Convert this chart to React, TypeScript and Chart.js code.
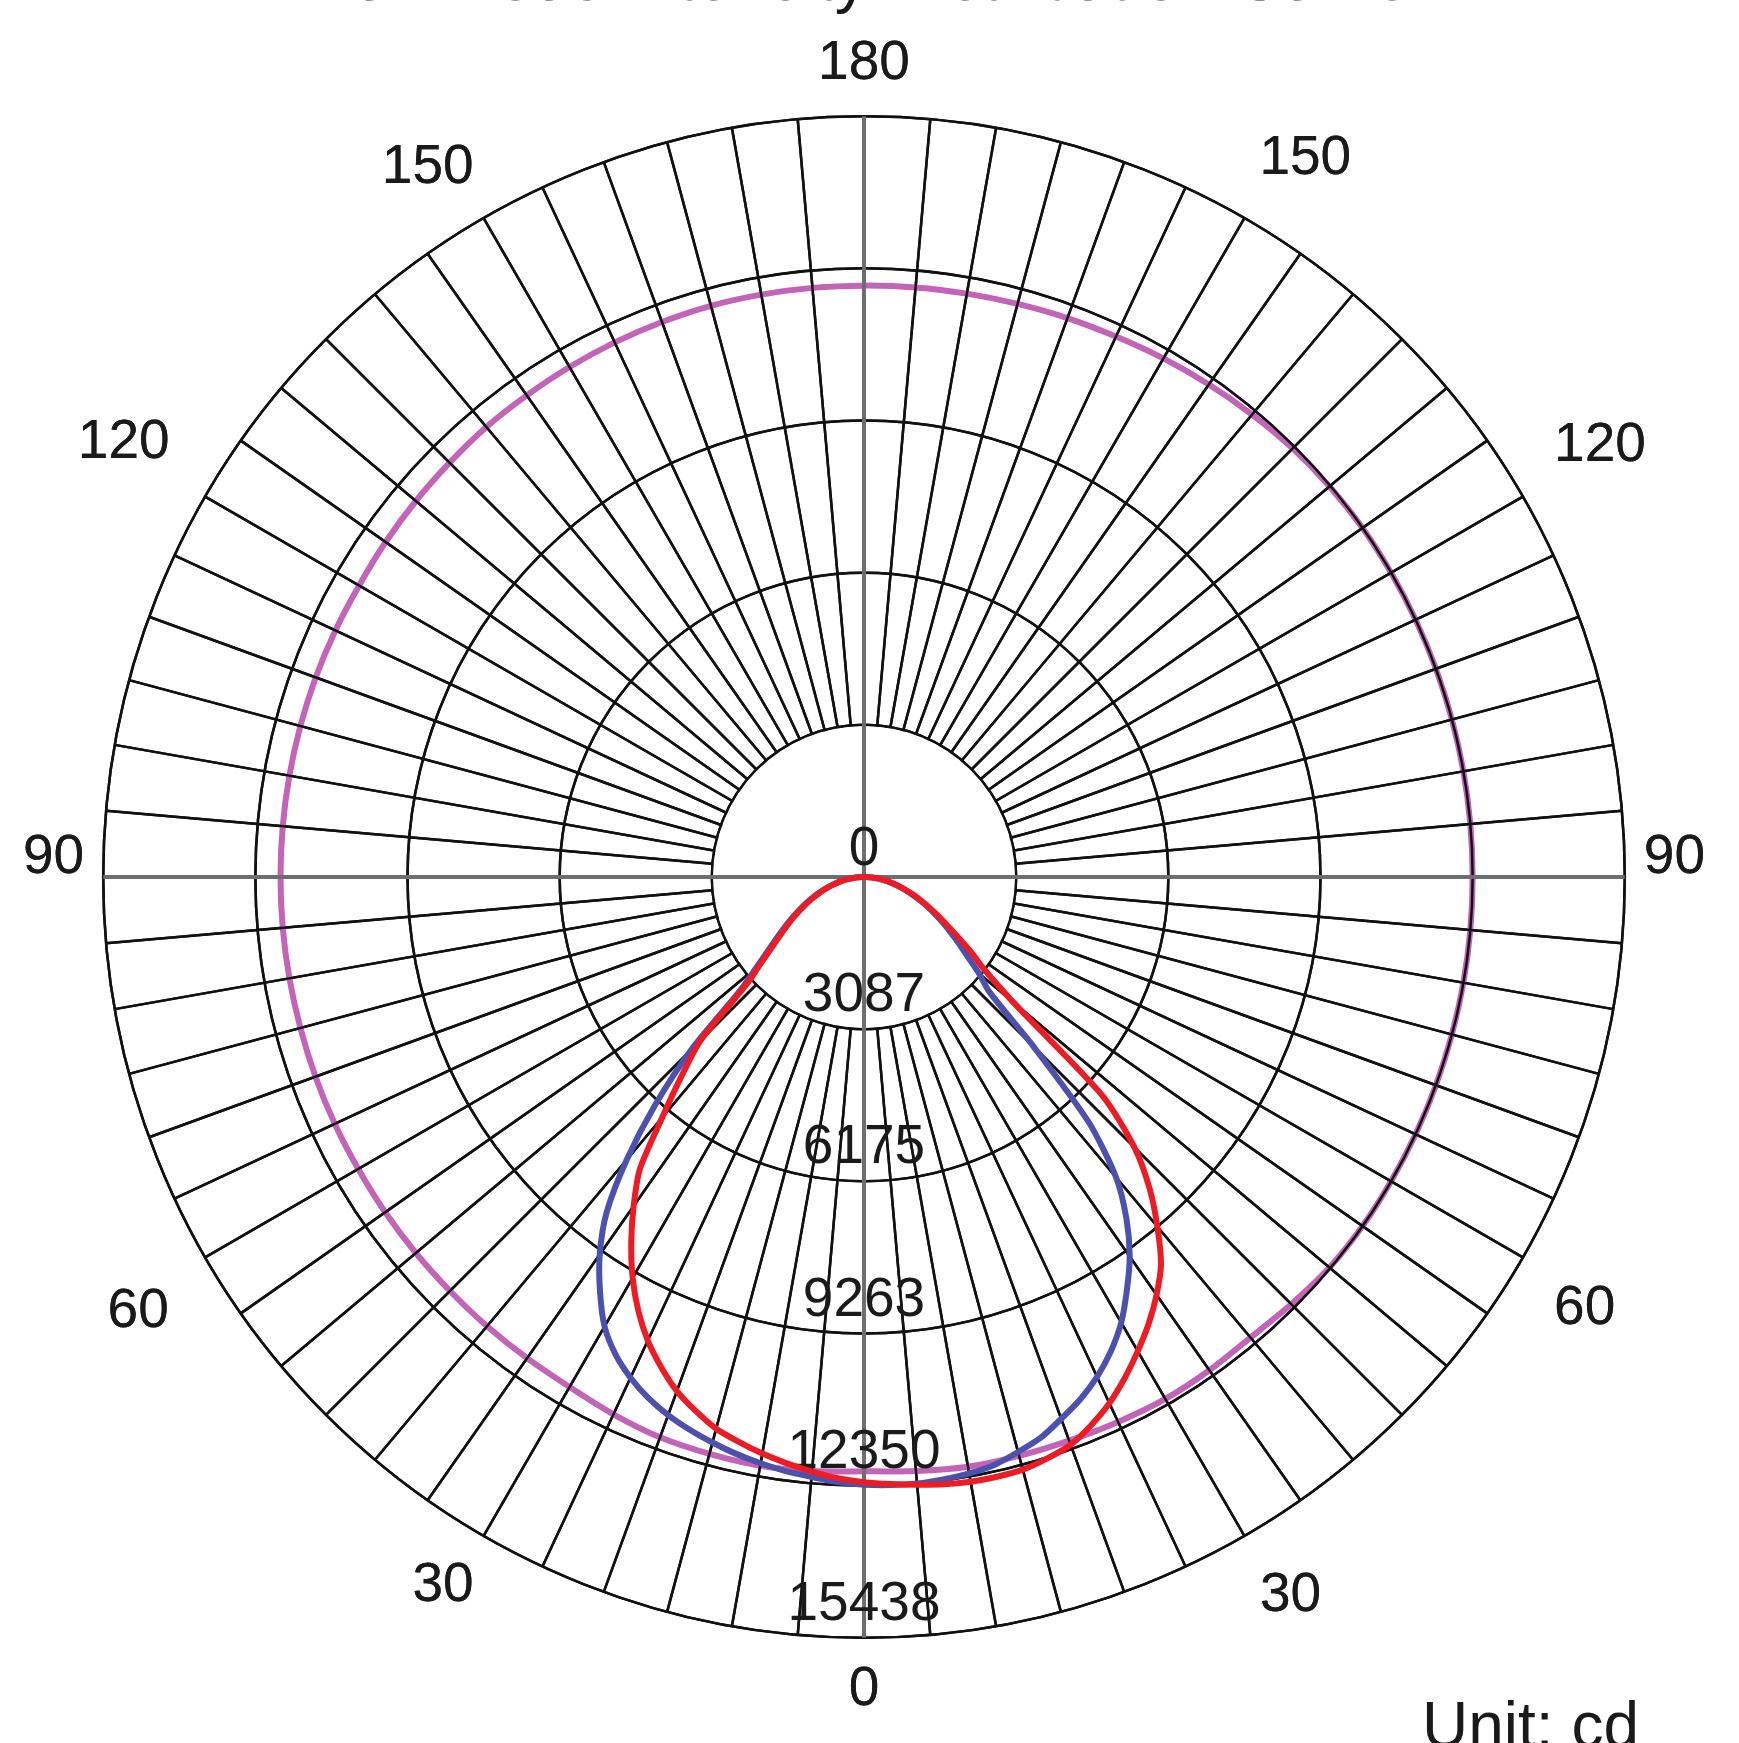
import { useEffect, useRef } from 'react';
import { Chart, registerables } from 'chart.js';

Chart.register(...registerables);

// Gamma angles (deg) for one half-plane, nadir (0) to zenith (180), 2.5° steps
const GAMMA = [0, 2.5, 5, 7.5, 10, 12.5, 15, 17.5, 20, 22.5, 25, 27.5, 30, 32.5, 35, 37.5, 40, 42.5, 45, 47.5,
  50, 52.5, 55, 57.5, 60, 62.5, 65, 67.5, 70, 72.5, 75, 77.5, 80, 82.5, 85, 87.5, 90, 92.5, 95, 97.5,
  100, 102.5, 105, 107.5, 110, 112.5, 115, 117.5, 120, 122.5, 125, 127.5, 130, 132.5, 135, 137.5, 140,
  142.5, 145, 147.5, 150, 152.5, 155, 157.5, 160, 162.5, 165, 167.5, 170, 172.5, 175, 177.5, 180];

const ANGLE_TICKS = [0, 30, 60, 90, 120, 150, 180];
const TICK_VALUES = [0, 3087.6, 6175.2, 9262.8, 12350.4, 15438];
const TICK_LABELS = ['0', '3087', '6175', '9263', '12350', '15438'];

// Red curve (cd), gamma 0..180 every 2.5°
const RED_LEFT = [12280, 12210, 12110, 12000, 11880, 11740, 11590, 11360, 11100, 10760, 10380, 9920, 9390, 8790, 8150, 7470, 6370, 5480, 4690, 3250,
  2740, 2370, 2090, 1860, 1660, 1470, 1300, 1130, 980, 840, 700, 570, 450, 330, 220, 110, 0,
  0, 0, 0, 0, 0, 0, 0, 0, 0, 0, 0, 0, 0, 0, 0, 0, 0, 0, 0, 0, 0, 0, 0, 0, 0, 0, 0, 0, 0, 0, 0, 0, 0, 0, 0, 0, 0];
const RED_RIGHT = [12280, 12330, 12380, 12430, 12460, 12465, 12450, 12370, 12260, 12040, 11780, 11460, 11110, 10750, 10350, 9900, 9260, 8580, 7760, 6550,
  3950, 3060, 2650, 2250, 1930, 1680, 1460, 1260, 1070, 900, 745, 600, 470, 350, 230, 115, 0,
  0, 0, 0, 0, 0, 0, 0, 0, 0, 0, 0, 0, 0, 0, 0, 0, 0, 0, 0, 0, 0, 0, 0, 0, 0, 0, 0, 0, 0, 0, 0, 0, 0, 0, 0, 0, 0];

// Blue curve (cd), gamma 0..180 every 2.5°
const BLUE_LEFT = [12330, 12290, 12220, 12160, 12080, 11990, 11880, 11760, 11620, 11440, 11210, 10920, 10530, 9970, 9350, 8580, 7490, 6270, 4950, 3400,
  2840, 2450, 2160, 1920, 1710, 1510, 1330, 1160, 1005, 862, 718, 584, 460, 340, 225, 112, 0,
  0, 0, 0, 0, 0, 0, 0, 0, 0, 0, 0, 0, 0, 0, 0, 0, 0, 0, 0, 0, 0, 0, 0, 0, 0, 0, 0, 0, 0, 0, 0, 0, 0, 0, 0, 0, 0];
const BLUE_RIGHT = [12330, 12350, 12355, 12330, 12290, 12220, 12080, 11930, 11700, 11470, 11190, 10850, 10440, 9930, 9400, 8750, 7960, 6750, 4860, 3450,
  3050, 2650, 2350, 2080, 1840, 1620, 1410, 1220, 1040, 880, 735, 595, 462, 340, 228, 114, 0,
  0, 0, 0, 0, 0, 0, 0, 0, 0, 0, 0, 0, 0, 0, 0, 0, 0, 0, 0, 0, 0, 0, 0, 0, 0, 0, 0, 0, 0, 0, 0, 0, 0, 0, 0, 0, 0];

// Purple curve (cd), gamma 0..180 every 5°
const PURPLE_LEFT = [12060, 12100, 12130, 12120, 12100, 12030, 11950, 11920, 11900, 11880, 11870, 11860, 11850, 11850, 11845, 11840, 11840, 11840, 11840,
  11840, 11840, 11840, 11840, 11835, 11830, 11850, 11870, 11890, 11920, 11930, 11950, 11970, 11985, 12000, 12000, 12000, 12000];
const PURPLE_RIGHT = [12060, 12100, 12150, 12160, 12170, 12200, 12230, 12220, 12200, 12260, 12330, 12350, 12350, 12350, 12350, 12350, 12350, 12350, 12350,
  12350, 12350, 12350, 12350, 12350, 12350, 12350, 12330, 12300, 12250, 12200, 12150, 12100, 12070, 12040, 12020, 12010, 12000];

const FONT = '"Liberation Sans", Arial, Helvetica, sans-serif';
const GRID = '#111111';
const AXIS = '#6e6e6e';
const TEXT = '#1a1a1a';
const N = 144; // radar spokes at 2.5°
const HALF = 72;
const PURPLE_INDEX = 2;

// Radar index i: 0 = nadir, clockwise up the left side to zenith (72), then down the right side
const gammaIndex = (i: number) => (i <= HALF ? i : N - i);
const ringLabels = (): (string | string[])[] => {
  const out: (string | string[])[] = [];
  for (let i = 0; i < N; i++) {
    const g = GAMMA[gammaIndex(i)];
    if (!ANGLE_TICKS.includes(g)) out.push('');
    else if (g === 90) out.push(['90', '']);
    else out.push(String(g));
  }
  return out;
};
const ringData = (left: number[], right: number[], step: number): (number | null)[] => {
  const out: (number | null)[] = [];
  for (let i = 0; i < N; i++) {
    const gi = gammaIndex(i);
    if (gi % step !== 0) {
      out.push(null);
      continue;
    }
    out.push(i <= HALF ? left[gi / step] : right[gi / step]);
  }
  return out;
};

const drawHub = (chart: any) => {
  const scale = chart.scales.r;
  const ctx = chart.ctx;
  const xC = scale.xCenter;
  const yC = scale.yCenter;
  const r1 = scale.getDistanceFromCenterForValue(TICK_VALUES[1]);
  ctx.save();
  ctx.beginPath();
  ctx.arc(xC, yC, r1 - 1.3, 0, Math.PI * 2);
  ctx.fillStyle = '#ffffff';
  ctx.fill();
  ctx.strokeStyle = AXIS;
  ctx.lineWidth = 4;
  [0, 36, 72, 108].forEach((i) => {
    const p = scale.getPointPosition(i, r1);
    ctx.beginPath();
    ctx.moveTo(xC, yC);
    ctx.lineTo(p.x, p.y);
    ctx.stroke();
  });
  ctx.fillStyle = TEXT;
  ctx.font = `55px ${FONT}`;
  ctx.textAlign = 'center';
  ctx.textBaseline = 'middle';
  TICK_LABELS.forEach((lab, k) => {
    const d = scale.getDistanceFromCenterForValue(TICK_VALUES[k]);
    ctx.fillText(lab, xC, yC + d - (k === 0 ? 27 : 33));
  });
  ctx.restore();
};

const decorPlugin = {
  id: 'iesDecor',
  afterDatasetDraw(chart: any, args: any) {
    if (args.index !== PURPLE_INDEX) return;
    const scale = chart.scales.r;
    chart.ctx.save();
    scale.drawGrid(chart.chartArea);
    chart.ctx.restore();
    drawHub(chart);
  },
  afterDraw(chart: any) {
    const scale = chart.scales.r;
    const ctx = chart.ctx;
    ctx.save();
    ctx.fillStyle = TEXT;
    ctx.font = `64px ${FONT}`;
    ctx.textAlign = 'right';
    ctx.textBaseline = 'alphabetic';
    ctx.fillText('Unit: cd', scale.xCenter + 775, scale.yCenter + 870);
    ctx.restore();
  },
};

// label padding per gamma: [left side, right side]
const LABEL_PAD: Record<number, [number, number]> = {
  30: [20, 31],
  60: [42, 36],
  120: [41, 36],
  150: [20, 30],
};

export default function App() {
  const ref = useRef<HTMLCanvasElement | null>(null);
  useEffect(() => {
    if (!ref.current) return;
    const line = (label: string, data: (number | null)[], color: string) => ({
      label,
      data,
      borderColor: color,
      backgroundColor: color,
      borderWidth: 6,
      pointRadius: 0,
      pointHoverRadius: 0,
      fill: false,
      spanGaps: true,
      tension: 0.25,
      borderJoinStyle: 'round' as const,
    });
    const chart = new Chart(ref.current, {
      type: 'radar',
      data: {
        labels: ringLabels(),
        datasets: [
          line('Red', ringData(RED_LEFT, RED_RIGHT, 1), '#ed1c24'),
          line('Blue', ringData(BLUE_LEFT, BLUE_RIGHT, 1), '#4d51ae'),
          line('Purple', ringData(PURPLE_LEFT, PURPLE_RIGHT, 2), '#c464b8'),
        ],
      },
      plugins: [decorPlugin],
      options: {
        animation: false,
        responsive: false,
        layout: { padding: { left: 1, right: 12, top: 0, bottom: 19.8 } },
        plugins: {
          legend: { display: false },
          tooltip: { enabled: false },
          title: {
            display: true,
            text: 'Luminous Intensity Distribution Curve',
            color: TEXT,
            font: { size: 66, family: FONT, weight: 'normal' },
            padding: { top: 0, bottom: 10 },
          },
        },
        scales: {
          r: {
            min: 0,
            max: 15438,
            startAngle: 180,
            afterBuildTicks: (scale: any) => {
              scale.ticks = TICK_VALUES.map((v) => ({ value: v }));
            },
            ticks: { display: false },
            grid: { circular: true, color: GRID, lineWidth: 2.5 },
            angleLines: {
              display: true,
              color: (c: any) => (c.index % 36 === 0 ? AXIS : GRID),
              lineWidth: (c: any) => (c.index % 2 === 1 ? 0 : c.index % 36 === 0 ? 4 : 2.5),
            },
            pointLabels: {
              display: true,
              color: TEXT,
              font: (c: any) => ({
                size: 55,
                family: FONT,
                lineHeight: GAMMA[gammaIndex(c.index)] === 90 ? 0.69 : 1.2,
              }),
              padding: (c: any) => {
                const pads = LABEL_PAD[GAMMA[gammaIndex(c.index)]];
                if (!pads) return 19;
                return c.index > HALF ? pads[1] : pads[0];
              },
            },
          },
        },
      } as any,
    });
    return () => chart.destroy();
  }, []);

  return (
    <div style={{ position: 'fixed', left: 0, top: 0, width: 1739, height: 1743, overflow: 'hidden', background: '#fff' }}>
      <canvas ref={ref} width={1739} height={1801} style={{ position: 'absolute', left: 0, top: -58, display: 'block' }} />
    </div>
  );
}
